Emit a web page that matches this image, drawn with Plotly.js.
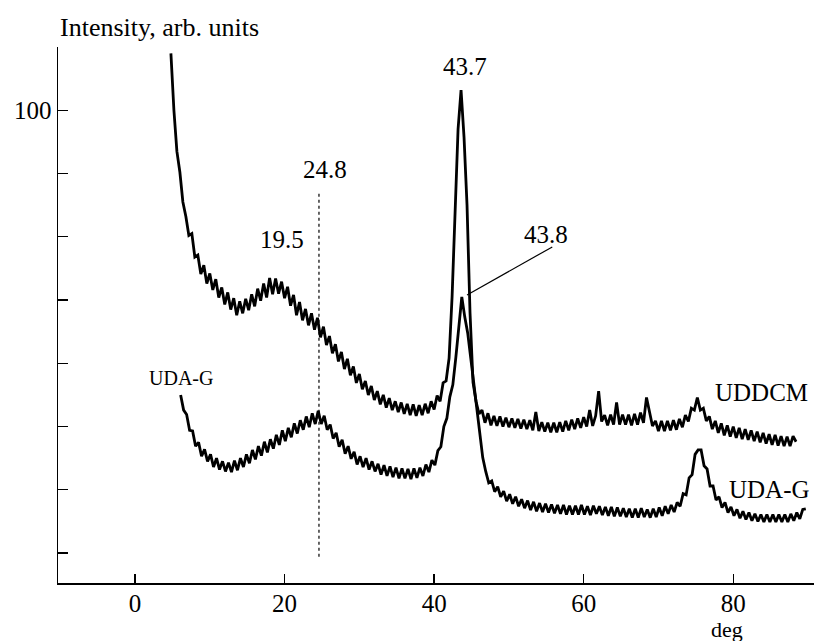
<!DOCTYPE html>
<html>
<head>
<meta charset="utf-8">
<script src="https://cdn.plot.ly/plotly-3.0.1.min.js"></script>
<style>html,body{margin:0;padding:0;background:#fff;}#chart{width:814px;height:641px;}</style>
</head>
<body>
<div id="chart"></div>
<script>
// Diffraction angle grid (deg): start and step of each scan
const uddcmStart = 4.8, uddcmStep = 0.4;
const udagStart = 6.1, udagStep = 0.4;

// UDDCM intensity (arb. units)
const uddcm = [
109.0,100.0,93.5,90.2,85.5,83.2,80.2,80.5,76.8,77.1,
74.1,75.5,72.6,74.2,71.6,73.3,70.4,72.0,69.3,71.2,
68.5,70.3,67.6,69.8,67.9,70.2,68.4,70.9,69.0,71.8,
69.9,72.6,70.4,73.5,70.9,73.4,71.0,72.9,70.3,72.1,
69.1,70.8,67.6,69.7,66.8,68.6,66.0,67.9,65.3,67.2,
64.1,65.8,62.9,64.3,61.6,63.0,60.3,61.8,59.1,60.7,
58.1,59.5,56.9,58.3,55.9,57.2,55.0,56.4,54.2,55.6,
53.5,55.0,53.0,54.5,52.6,54.0,52.3,53.8,52.0,53.6,
51.8,53.5,51.7,53.4,51.8,53.6,52.1,54.0,52.7,54.9,
54.0,56.9,57.2,60.8,70.5,84.0,97.0,103.2,95.7,85.0,
68.0,57.0,54.0,52.0,52.6,50.6,52.1,50.2,51.7,50.1,
51.6,50.0,51.4,49.9,51.3,49.8,51.2,49.7,51.1,49.6,
51.0,49.4,52.3,49.3,50.7,49.2,50.6,49.1,50.6,49.1,
50.7,49.2,50.9,49.4,51.1,49.6,51.3,49.8,51.5,50.0,
52.6,50.1,51.7,55.6,50.8,51.8,50.2,51.9,50.3,53.8,
50.3,51.9,50.3,51.9,50.2,52.0,50.3,52.2,50.6,54.6,
52.4,50.1,50.9,49.3,50.9,49.3,50.9,49.4,51.0,49.5,
51.2,49.9,51.8,50.8,52.9,52.6,54.6,52.6,52.9,50.9,
51.6,49.6,50.9,49.0,50.5,48.6,50.2,48.4,50.0,48.2,
49.8,48.0,49.6,47.9,49.4,47.7,49.2,47.5,49.0,47.3,
48.8,47.1,48.7,47.0,48.5,46.9,48.4,46.9,48.5,47.6
];

// UDA-G intensity (arb. units)
const udag = [
55.0,52.6,51.9,49.4,49.3,46.9,47.5,45.3,46.4,44.5,
45.6,43.6,45.0,43.2,44.5,42.9,44.3,42.8,44.6,43.1,
45.0,43.6,45.6,44.2,46.3,44.8,46.9,45.4,47.6,45.9,
48.0,46.5,48.7,47.1,49.4,47.7,49.8,48.3,50.5,48.9,
51.0,49.5,51.6,49.9,52.1,50.4,52.5,50.4,51.7,49.5,
50.3,48.1,49.0,46.8,47.9,45.7,46.9,44.9,46.0,44.0,
45.3,43.6,45.0,43.2,44.5,42.9,44.1,42.4,43.9,42.2,
43.7,42.0,43.5,41.8,43.4,41.8,43.3,41.7,43.4,41.9,
43.5,42.2,44.0,42.8,44.7,43.9,46.2,46.8,50.0,51.3,
54.7,56.6,60.9,65.2,70.5,67.3,64.7,60.8,56.9,52.3,
49.1,45.1,42.9,41.1,41.4,39.7,40.5,38.9,39.8,38.2,
39.3,37.8,38.9,37.4,38.5,37.1,38.3,36.8,38.1,36.6,
37.9,36.5,37.8,36.4,37.7,36.3,37.6,36.2,37.6,36.1,
37.5,36.1,37.5,36.1,37.6,36.1,37.4,36.0,37.5,36.2,
37.4,36.0,37.3,35.9,37.3,35.8,37.2,35.8,37.1,35.7,
37.0,35.6,37.0,35.6,37.1,35.7,36.9,35.6,37.0,35.7,
37.2,35.9,37.4,36.2,37.6,36.5,38.0,37.4,39.4,39.2,
41.9,42.4,45.6,46.3,46.3,43.8,43.3,40.6,40.6,38.4,
38.9,37.2,38.0,36.4,37.3,35.9,36.9,35.5,36.6,35.3,
36.4,35.1,36.2,35.0,36.1,34.9,36.1,34.9,36.1,34.9,
36.1,34.9,36.1,34.9,36.2,35.1,36.4,35.4,36.9,37.0
];

// Axis ticks
const xTicks = [0, 20, 40, 60, 80];
const xTickLabels = ['0', '20', '40', '60', '80'];
const yTicks = [30, 40, 50, 60, 70, 80, 90, 100];
const yTickLabels = ['', '', '', '', '', '', '', '100'];

// Peak marks
const dottedLineX = 24.6;
const peakLabels = ['43.7', '43.8', '24.8', '19.5'];

const serif = 'Liberation Serif, Times New Roman, serif';

const traces = [
  {x0: uddcmStart, dx: uddcmStep, y: uddcm, type: 'scatter', mode: 'lines',
   line: {color: '#000', width: 2.8}, hoverinfo: 'skip'},
  {x0: udagStart, dx: udagStep, y: udag, type: 'scatter', mode: 'lines',
   line: {color: '#000', width: 2.8}, hoverinfo: 'skip'}
];

const ann = (text, x, y, size, extra) => Object.assign({
  text: text, x: x, y: y, xref: 'x', yref: 'y', showarrow: false,
  font: {family: serif, size: size, color: '#000'}, xanchor: 'center', yanchor: 'middle'
}, extra || {});

const layout = {
  width: 814, height: 641,
  margin: {l: 58, r: 0, t: 47, b: 58},
  paper_bgcolor: '#fff', plot_bgcolor: '#fff',
  showlegend: false,
  font: {family: serif, size: 25, color: '#000'},
  xaxis: {
    range: [-10.3, 90.8], showgrid: false, zeroline: false,
    showline: true, linecolor: '#000', linewidth: 1.5,
    ticks: 'inside', ticklen: 9, tickwidth: 1.3, tickcolor: '#000',
    tickvals: xTicks, ticktext: xTickLabels, ticklabelstandoff: -3,
    tickfont: {family: serif, size: 25, color: '#000'}
  },
  yaxis: {
    range: [25.27, 110], showgrid: false, zeroline: false,
    showline: true, linecolor: '#000', linewidth: 1.5,
    ticks: 'inside', ticklen: 10, tickwidth: 1.3, tickcolor: '#000',
    tickvals: yTicks, ticktext: yTickLabels,
    tickfont: {family: serif, size: 25, color: '#000'}
  },
  shapes: [
    {type: 'line', xref: 'x', yref: 'y', x0: dottedLineX, x1: dottedLineX, y0: 29.4, y1: 86.9,
     line: {color: '#000', width: 1.2, dash: 'dot'}},
    {type: 'line', xref: 'x', yref: 'y', x0: 55.8, x1: 44.4, y0: 78.4, y1: 70.8,
     line: {color: '#000', width: 1.2}}
  ],
  annotations: [
    {text: 'Intensity, arb. units', xref: 'paper', yref: 'paper', x: 0, y: 1.037,
     xanchor: 'left', yanchor: 'middle', showarrow: false,
     font: {family: serif, size: 26, color: '#000'}},
    ann(peakLabels[0], 44.15, 106.95, 25),
    ann(peakLabels[1], 55.0, 80.4, 25),
    ann(peakLabels[2], 25.4, 90.7, 25),
    ann(peakLabels[3], 19.6, 79.6, 25),
    ann('UDDCM', 83.8, 55.4, 25),
    ann('UDA-G', 84.8, 40.1, 25),
    ann('UDA-G', 6.2, 57.7, 20),
    {text: 'deg', xref: 'x', yref: 'paper', x: 79.1, y: -0.0875, xanchor: 'center', yanchor: 'middle',
     showarrow: false, font: {family: serif, size: 22, color: '#000'}}
  ]
};

Plotly.newPlot('chart', traces, layout, {staticPlot: true, displayModeBar: false});
</script>
</body>
</html>
